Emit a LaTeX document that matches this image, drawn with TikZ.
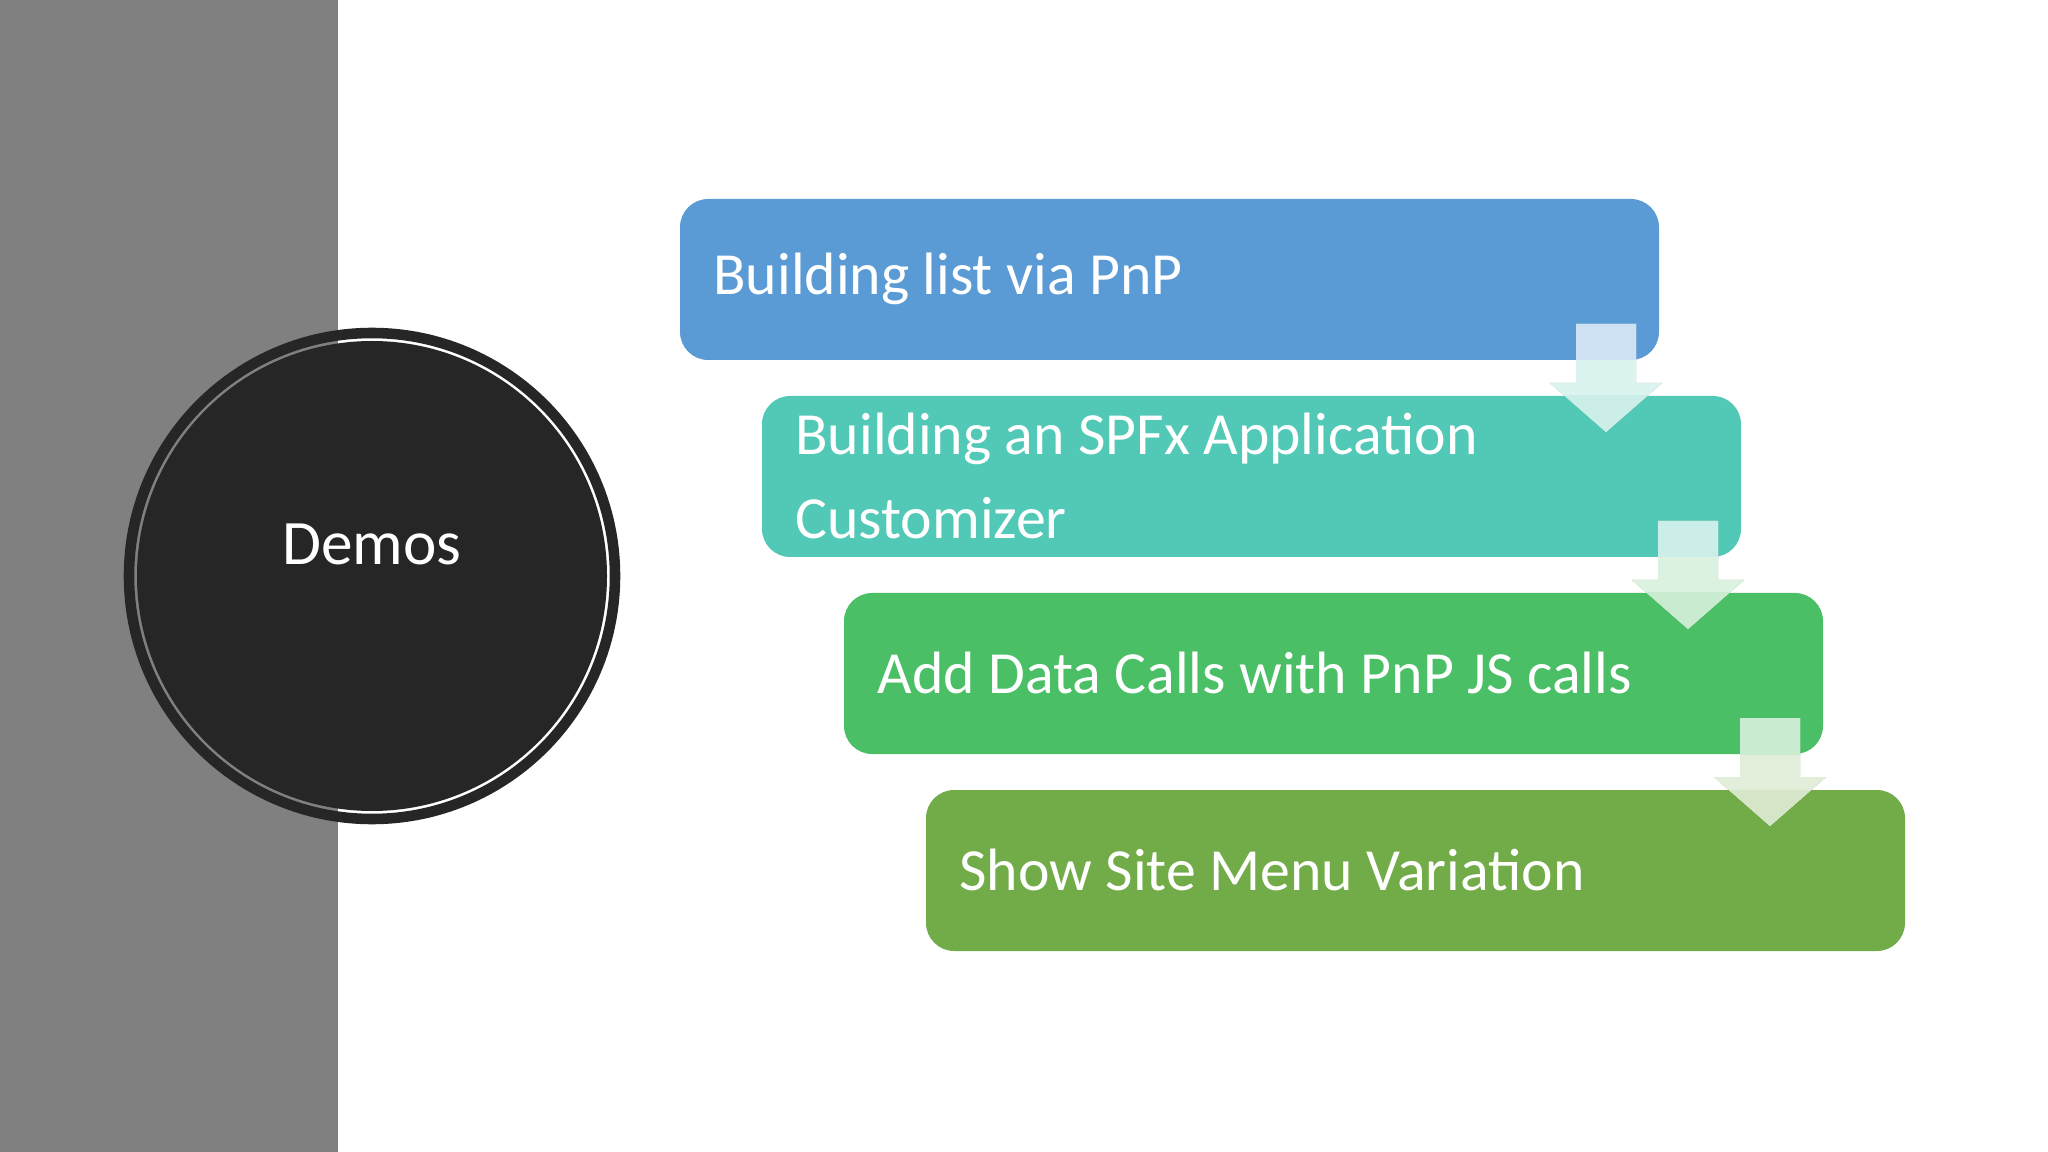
\documentclass[tikz,border=0pt]{standalone}
\usepackage{fontspec}
\setmainfont{Carlito}
\begin{document}
\begin{tikzpicture}[x=0.01cm,y=-0.01cm,
  box/.style={rounded corners=8pt,inner sep=0pt},
  lbl/.style={font=\fontsize{17}{24}\selectfont,text=white,anchor=west,align=left}]
\useasboundingbox (0,0) rectangle (2048,1152);
\fill[white] (0,0) rectangle (2048,1152);
\fill[black!50] (0,0) rectangle (338,1152);
\draw[line width=3pt,draw=black!85] (372,576) circle (243);
\fill[black!85] (372,576) circle (235);
\node[font=\fontsize{18}{22}\selectfont,text=white] (demos) at (372,544) {Demos};
\definecolor{c1}{HTML}{5B9BD5}
\definecolor{c2}{HTML}{52C8B6}
\definecolor{c3}{HTML}{4BBF65}
\definecolor{c4}{HTML}{72AC48}
\fill[c1,box] (680,199) rectangle (1659,360);
\fill[c2,box] (762,396) rectangle (1741,557);
\fill[c3,box] (844,593) rectangle (1823,754);
\fill[c4,box] (926,790) rectangle (1905,951);
\node[lbl] (t0) at (701,279) {Building list via PnP};
\node[lbl] (t1) at (783,476) {Building an SPFx Application\\Customizer};
\node[lbl] (t2) at (865,673) {Add Data Calls with PnP JS calls};
\node[lbl] (t3) at (947,870) {Show Site Menu Variation};
\foreach \i/\a/\b in {0/c1/c2,1/c2/c3,2/c3/c4}{
  \def\arrowpath{({1576+82*\i},{324+197*\i}) -- ({1636+82*\i},{324+197*\i}) -- ({1636+82*\i},{383+197*\i}) -- ({1662+82*\i},{383+197*\i}) -- ({1606+82*\i},{432+197*\i}) -- ({1550+82*\i},{383+197*\i}) -- ({1576+82*\i},{383+197*\i}) -- cycle}
  \fill[white!80!\b!70!black!100] \arrowpath;
  \fill[white!80!\b] \arrowpath;
  \begin{scope}
    \clip ({680+82*\i},{199+197*\i}) rectangle ({1659+82*\i},{360+197*\i});
    \fill[white!70!\a] \arrowpath;
  \end{scope}
  \begin{scope}
    \clip ({762+82*\i},{396+197*\i}) rectangle ({1741+82*\i},{557+197*\i});
    \fill[white!70!\b] \arrowpath;
  \end{scope}
}
\end{tikzpicture}
\end{document}
